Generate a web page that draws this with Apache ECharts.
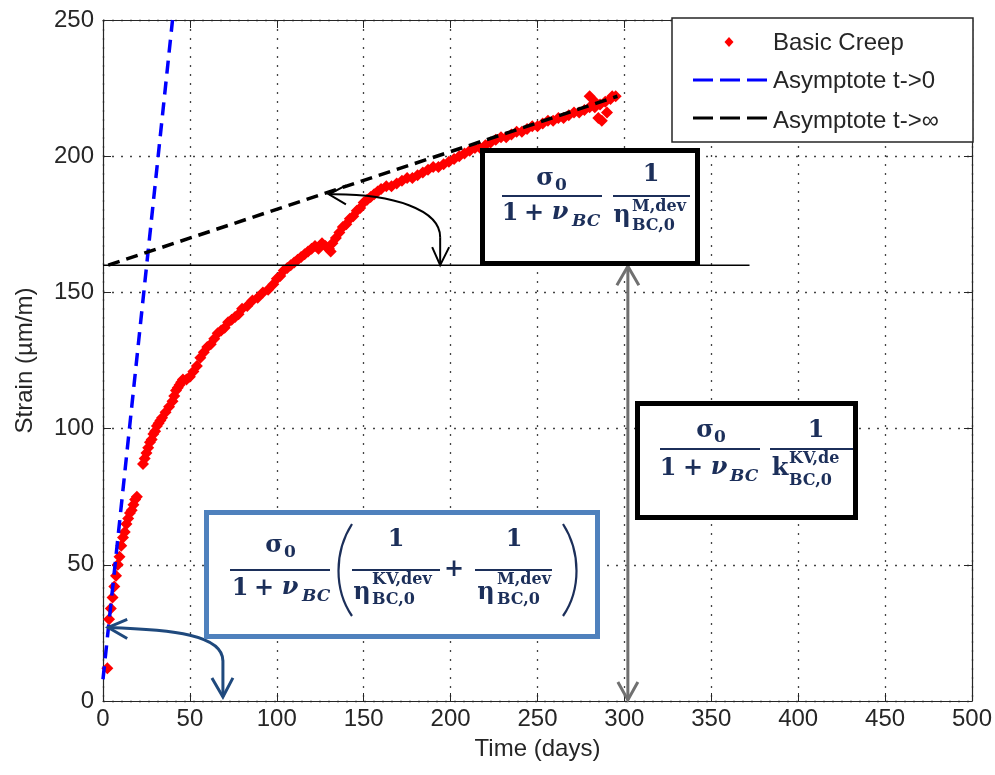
<!DOCTYPE html>
<html><head><meta charset="utf-8">
<script src="https://cdn.jsdelivr.net/npm/echarts@6/dist/echarts.min.js"></script>
<style>html,body{margin:0;padding:0;background:#fff}#c{width:995px;height:775px}</style>
</head><body><div id="c"></div>
<script>
// ---- data ----
const xRange = [0, 500];
const yRange = [0, 250];
const creepData = [
  [2.5,12],
  [3.5,30],[4.5,34],[5.5,38],[6.5,42],[7.5,46],[8.5,50],[9.5,53],[10.5,57],[11.5,60],[12.5,62],
  [13.5,65],[14.5,67],[15.5,69],[16.5,70],[17.5,72],[18.5,74],[19.5,75],
  [23,87],[24,89],[25,91],[26,93],[27,95],[28,96],[29,98],[30,99],[31,101],[32,102],[33,103],[34,104],
  [36,106],[38,108],[40,110],[41,112],[42,114],[43,115],[44,116],[45,117],[46,118],[48,118],[50,119],
  [52,121],[54,123],[56,126],[58,128],[60,130],[62,131],[64,133],[66,135],[68,136],[70,137],[72,139],
  [74,140],[76,141],[78,142],[80,144],[83,145],[86,147],[89,148],[92,150],[95,151],[98,153],[100,155],
  [102,156],[104,158],[106,159],[108,160],[110,161],[112,162],[114,163],[116,164],[118,165],[120,166],
  [122,167],[124,166],[126,168],[128,167],[130,166],[131,165],[132,168],[134,170],[136,172],[138,174],
  [140,175],[142,177],[144,178],[146,180],[148,181],[150,183],[152,184],[154,185],[156,186],[158,187],
  [160,188],[163,189],[166,189],[169,190],[172,191],[175,192],[178,192],[181,193],[184,194],[187,195],
  [190,196],[193,196],[196,197],[199,198],[202,199],[205,200],[208,201],[211,202],[214,203],[217,203],
  [220,204],[223,205],[226,206],[229,207],[232,207],[235,208],[238,209],[241,209],[244,210],[247,211],
  [250,211],[253,212],[256,213],[259,213],[262,214],[265,214],[268,215],[271,216],[274,216],[277,217],
  [280,218],[283,218],[286,219],[289,220],[292,221],[295,222],
  [280,222],[285,214],[287,213],[290,216],[293,222],[283,220]
];
const asymptoteZero = [[0,8],[40,250]];
const asymptoteInf = [[3,160],[296,222]];
const refLevel = [[0,160],[372,160]];
const legendNames = ['Basic Creep', 'Asymptote t->0', 'Asymptote t->∞'];
// annotation anchors (data coordinates)
const blackArrowTips = [[130,186],[194,160]];
const blueArrowTips = [[3,27],[69,1.5]];
const greyArrowEnds = [[302,160],[302,0]];

const AX = '#262626';
const SANS = '"Liberation Sans", Arial, sans-serif';
const SERIF = '"DejaVu Serif", serif';
const FCOL = '#1c2f5a';
const RED = '#ff0000', BLUE = '#0000ff', BLACK = '#000000';

function axisBase(extra) {
  return Object.assign({
    type: 'value', interval: 50,
    axisLine: { show: true, onZero: false, lineStyle: { color: AX, width: 1.2 } },
    axisTick: { show: true, inside: true, length: 8, lineStyle: { color: AX } },
    axisLabel: { color: AX, fontSize: 24, fontFamily: SANS },
    splitLine: { show: false }
  }, extra);
}
const gridDots = { show: true, lineStyle: { type: [2, 7], color: '#444', width: 1.3 } };

const option = {
  animation: false,
  backgroundColor: '#fff',
  grid: { left: 103, right: 23, top: 20, bottom: 74 },
  xAxis: [
    axisBase({ min: xRange[0], max: xRange[1], position: 'bottom', splitLine: gridDots,
      axisLabel: { color: AX, fontSize: 24, fontFamily: SANS, margin: 6 },
      name: 'Time (days)', nameLocation: 'middle', nameGap: 36,
      nameTextStyle: { color: AX, fontSize: 24, fontFamily: SANS } }),
    axisBase({ min: xRange[0], max: xRange[1], position: 'top', axisLabel: { show: false } })
  ],
  yAxis: [
    axisBase({ min: yRange[0], max: yRange[1], position: 'left', splitLine: gridDots,
      axisLabel: { color: AX, fontSize: 24, fontFamily: SANS, margin: 9 },
      name: 'Strain (µm/m)', nameLocation: 'middle', nameGap: 66,
      nameTextStyle: { color: AX, fontSize: 24, fontFamily: SANS } }),
    axisBase({ min: yRange[0], max: yRange[1], position: 'right', axisLabel: { show: false } })
  ],
  legend: { show: false, data: legendNames },
  series: [
    { name: legendNames[0], type: 'scatter', data: creepData, symbol: 'diamond', symbolSize: 12,
      itemStyle: { color: RED, opacity: 1 }, z: 2 },
    { name: legendNames[1], type: 'line', data: asymptoteZero, symbol: 'none', z: 3,
      lineStyle: { color: BLUE, width: 3.5, type: [13, 8] } },
    { name: legendNames[2], type: 'line', data: asymptoteInf, symbol: 'none', z: 3,
      lineStyle: { color: BLACK, width: 3.5, type: [12, 7] } },
    { name: 'ref', type: 'line', data: refLevel, symbol: 'none', z: 3,
      lineStyle: { color: BLACK, width: 1.5 } }
  ]
};

const chart = echarts.init(document.getElementById('c'));
chart.setOption(option);
const px = p => chart.convertToPixel({ seriesIndex: 0 }, p);

const G = [];
// legend (drawn as graphics, MATLAB style)
G.push({ type: 'rect', z: 30, shape: { x: 672, y: 18, width: 301, height: 124 },
  style: { fill: '#fff', stroke: AX, lineWidth: 1.5 } });
G.push({ type: 'polygon', z: 31, shape: { points: [[729, 37], [733.5, 42], [729, 47], [724.5, 42]] },
  style: { fill: RED } });
G.push({ type: 'line', z: 31, shape: { x1: 693, y1: 80, x2: 767, y2: 80 },
  style: { stroke: BLUE, lineWidth: 3, lineDash: [20, 7] } });
G.push({ type: 'line', z: 31, shape: { x1: 693, y1: 118, x2: 767, y2: 118 },
  style: { stroke: BLACK, lineWidth: 3, lineDash: [20, 7] } });
[[legendNames[0], 43], [legendNames[1], 81], [legendNames[2], 121]].forEach(function (it) {
  G.push({ type: 'text', z: 31, x: 773, y: it[1], style: { text: it[0], fill: AX,
    align: 'left', verticalAlign: 'middle', font: '24px ' + SANS } });
});

function T(text, x, y, size, italic, align) {
  G.push({ type: 'text', z: 21, x: x, y: y, style: {
    text: text, fill: FCOL, align: align || 'center', verticalAlign: 'middle',
    font: (italic ? 'italic ' : '') + 'bold ' + size + 'px ' + SERIF } });
}
function bar(x1, x2, y) {
  G.push({ type: 'line', z: 21, shape: { x1: x1, y1: y, x2: x2, y2: y },
    style: { stroke: FCOL, lineWidth: 1.8 } });
}
function box(x, y, w, h, color) {
  G.push({ type: 'rect', z: 20, shape: { x: x, y: y, width: w, height: h }, style: { fill: '#fff' } });
  G.push({ type: 'rect', z: 22, shape: { x: x, y: y, width: w, height: h },
    style: { fill: null, stroke: color, lineWidth: 5 } });
}
// Box 1 : sigma0/(1+nu) * 1/eta^M
box(482.5, 150.5, 215, 113, '#000');
T('σ', 545, 179, 24); T('0', 555, 186, 17, false, 'left');
bar(502, 602, 196);
T('1', 510, 214, 24); T('+', 534, 214, 24); T('ν', 560, 213, 24, true); T('BC', 572, 222, 17, true, 'left');
T('1', 651, 175, 24);
bar(613, 690, 196);
T('η', 622, 216, 24); T('M,dev', 632, 207, 16, false, 'left'); T('BC,0', 632, 226, 16, false, 'left');

// Box 2 : sigma0/(1+nu) * 1/k^KV
box(637.5, 403.5, 218, 114, '#000');
T('σ', 705, 431, 24); T('0', 714, 438, 17, false, 'left');
bar(660, 760, 449);
T('1', 668, 469, 24); T('+', 693, 469, 24); T('ν', 719, 468, 24, true); T('BC', 730, 477, 17, true, 'left');
T('1', 816, 431, 24);
bar(770, 853, 449);
T('k', 780, 469, 24); T('KV,de', 789, 459, 16, false, 'left'); T('BC,0', 789, 481, 16, false, 'left');

// Box 3 : sigma0/(1+nu) (1/eta^KV + 1/eta^M)
box(206.5, 512.5, 391, 124, '#4f81bd');
T('σ', 274, 546, 24); T('0', 284, 553, 17, false, 'left');
bar(230, 330, 570);
T('1', 240, 589, 24); T('+', 264, 589, 24); T('ν', 290, 588, 24, true); T('BC', 302, 597, 17, true, 'left');
G.push({ type: 'bezierCurve', z: 21, shape: { x1: 352, y1: 524, cpx1: 334, cpy1: 552, cpx2: 334, cpy2: 590, x2: 352, y2: 616 },
  style: { stroke: FCOL, lineWidth: 2.2, fill: null } });
G.push({ type: 'bezierCurve', z: 21, shape: { x1: 563, y1: 524, cpx1: 581, cpy1: 552, cpx2: 581, cpy2: 590, x2: 563, y2: 616 },
  style: { stroke: FCOL, lineWidth: 2.2, fill: null } });
T('1', 396, 540, 24); bar(352, 440, 570);
T('+', 454, 570, 24);
T('1', 514, 540, 24); bar(475, 552, 570);
T('η', 362, 593, 24); T('KV,dev', 372, 580, 16, false, 'left'); T('BC,0', 372, 600, 16, false, 'left');
T('η', 486, 593, 24); T('M,dev', 497, 580, 16, false, 'left'); T('BC,0', 497, 600, 16, false, 'left');

function poly(color, width, points) {
  G.push({ type: 'polyline', z: 15, shape: { points: points }, style: { stroke: color, lineWidth: width, fill: null } });
}
// black curved double arrow
(function () {
  const a = px(blackArrowTips[0]), b = px(blackArrowTips[1]);
  const c = '#000';
  G.push({ type: 'bezierCurve', z: 15, shape: { x1: a[0], y1: a[1], cpx1: a[0] + 65, cpy1: a[1] - 1, cpx2: b[0], cpy2: b[1] - 55, x2: b[0], y2: b[1] - 28 },
    style: { stroke: c, lineWidth: 2, fill: null } });
  poly(c, 2, [[b[0], b[1] - 28], [b[0], b[1]]]);
  poly(c, 2, [[a[0] + 17, a[1] - 9], a, [a[0] + 17, a[1] + 10]]);
  poly(c, 2, [[b[0] - 8, b[1] - 18], b, [b[0] + 9, b[1] - 18]]);
})();
// blue curved double arrow
(function () {
  const a = px(blueArrowTips[0]), b = px(blueArrowTips[1]);
  const c = '#1f497d';
  G.push({ type: 'bezierCurve', z: 15, shape: { x1: a[0], y1: a[1], cpx1: a[0] + 65, cpy1: a[1] + 2, cpx2: b[0], cpy2: b[1] - 62, x2: b[0], y2: b[1] - 36 },
    style: { stroke: c, lineWidth: 3, fill: null } });
  poly(c, 3, [[b[0], b[1] - 36], [b[0], b[1]]]);
  poly(c, 3, [[a[0] + 19, a[1] - 8], a, [a[0] + 19, a[1] + 11]]);
  poly(c, 3, [[b[0] - 11, b[1] - 19], b, [b[0] + 10, b[1] - 19]]);
})();
// grey vertical double arrow
(function () {
  const a = px(greyArrowEnds[0]), b = px(greyArrowEnds[1]);
  const c = '#707070';
  a[1] += 1; b[1] -= 1;
  poly(c, 3, [a, b]);
  poly(c, 3, [[a[0] - 11, a[1] + 19], a, [a[0] + 11, a[1] + 19]]);
  poly(c, 3, [[b[0] - 10, b[1] - 18], b, [b[0] + 10, b[1] - 18]]);
})();

chart.setOption({ graphic: { elements: G } });
</script>
</body></html>
